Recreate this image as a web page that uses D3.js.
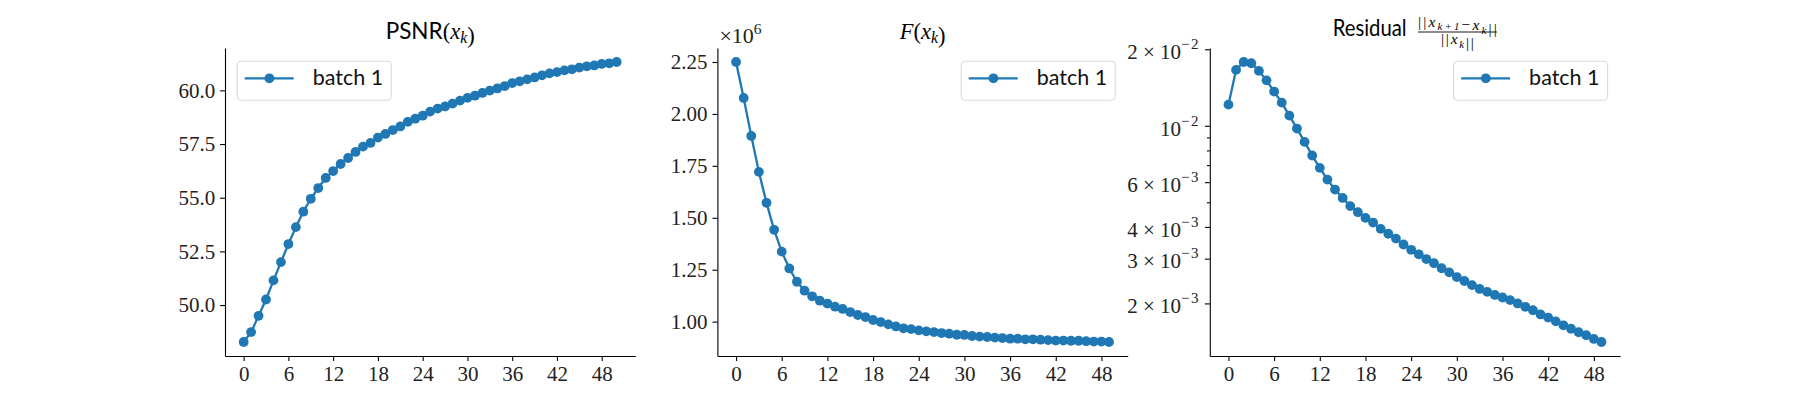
<!DOCTYPE html>
<html>
<head>
<meta charset="utf-8">
<script src="https://cdn.jsdelivr.net/npm/d3@7/dist/d3.min.js"></script>
<style>
  body { margin: 0; background: #fff; }
  svg { display: block; }
  .tick text { font-family: "Liberation Serif", serif; font-size: 21px; fill: #222; }
  .serif { font-family: "Liberation Serif", serif; }
  .sans { font-family: Lato, "Open Sans", sans-serif; }
</style>
</head>
<body>
<script>
(function(){

    //values, one point per iteration (x = array index)
    var psnrValues = [48.28, 48.74, 49.50, 50.26, 51.15, 52.00, 52.84, 53.63, 54.35, 54.95,
        55.45, 55.92, 56.24, 56.57, 56.85, 57.13, 57.38, 57.55, 57.80, 57.97,
        58.15, 58.32, 58.53, 58.68, 58.82, 59.01, 59.15, 59.25, 59.38, 59.52,
        59.65, 59.75, 59.88, 59.99, 60.09, 60.20, 60.34, 60.42, 60.51, 60.60,
        60.70, 60.79, 60.85, 60.93, 60.98, 61.06, 61.12, 61.16, 61.23, 61.26, 61.32];

    //objective F(x_k), in units of 1e6
    var objectiveValues = [2.250, 2.077, 1.894, 1.721, 1.572, 1.442, 1.337, 1.256, 1.192, 1.149,
        1.122, 1.101, 1.087, 1.072, 1.061, 1.046, 1.032, 1.022, 1.008, 0.998,
        0.987, 0.977, 0.968, 0.964, 0.958, 0.953, 0.950, 0.945, 0.942, 0.937,
        0.936, 0.931, 0.928, 0.926, 0.923, 0.921, 0.918, 0.918, 0.915, 0.915,
        0.913, 0.911, 0.909, 0.909, 0.908, 0.908, 0.906, 0.904, 0.904, 0.902];

    var residualValues = [0.01211, 0.01659, 0.01782, 0.01762, 0.01644, 0.01509, 0.01363, 0.01233, 0.01096, 0.00975,
        0.00864, 0.00764, 0.00683, 0.00614, 0.00561, 0.00520, 0.00483, 0.00457, 0.00434, 0.00416,
        0.00393, 0.00376, 0.00360, 0.00341, 0.00325, 0.00312, 0.00299, 0.00288, 0.00275, 0.00265,
        0.00254, 0.00245, 0.00236, 0.00228, 0.00222, 0.00216, 0.00211, 0.00206, 0.00200, 0.00194,
        0.00188, 0.00181, 0.00176, 0.00170, 0.00164, 0.00159, 0.00154, 0.00150, 0.00145, 0.00141];

    //tick values and labels
    var xTickValues = [0, 6, 12, 18, 24, 30, 36, 42, 48];
    var psnrTickValues = [50.0, 52.5, 55.0, 57.5, 60.0];
    var objectiveTickValues = [1.00, 1.25, 1.50, 1.75, 2.00, 2.25];
    var residualTickValues = [0.002, 0.003, 0.004, 0.006, 0.01, 0.02];
    var residualTickMantissa = ["2", "3", "4", "6", "", "2"];
    var residualTickExponent = ["\u22123", "\u22123", "\u22123", "\u22123", "\u22122", "\u22122"];
    var residualMinorTicks = [0.005, 0.007, 0.008, 0.009];
    var legendLabel = "batch 1";

    //figure layout (matplotlib subplot params)
    var width = 1800, height = 400;
    var plotLeft = 225, plotTop = 48, plotBottom = 356;
    var plotWidth = 410.3, plotGap = 82.1;
    var blue = "#1f77b4";
    var fs = 21;
    var markerR = 4.9, lineW = 2.3;

    var svg = d3.select("body").append("svg")
        .attr("width", width)
        .attr("height", height);

    //5% margins like matplotlib autoscale
    function padded(extent){
        var r = extent[1] - extent[0];
        return [extent[0] - 0.05 * r, extent[1] + 0.05 * r];
    }

    function makePanel(index, values, logScale){
        var left = plotLeft + index * (plotWidth + plotGap);
        var g = svg.append("g").attr("transform", "translate(" + left + ",0)");

        var x = d3.scaleLinear()
            .domain(padded([0, values.length - 1]))
            .range([0, plotWidth]);

        var y;
        if (logScale) {
            var ld = padded(d3.extent(values, function(d){ return Math.log10(d); }));
            y = d3.scaleLog().domain([Math.pow(10, ld[0]), Math.pow(10, ld[1])]).range([plotBottom, plotTop]);
        } else {
            y = d3.scaleLinear().domain(padded(d3.extent(values))).range([plotBottom, plotTop]);
        }

        //bottom axis
        var xAxis = g.append("g")
            .attr("transform", "translate(0," + plotBottom + ")")
            .call(d3.axisBottom(x).tickValues(xTickValues).tickSize(4.9).tickPadding(4.9).tickSizeOuter(0));
        styleAxis(xAxis);

        //series line and markers
        var line = d3.line()
            .x(function(d, i){ return x(i); })
            .y(function(d){ return y(d); });

        g.append("path")
            .datum(values)
            .attr("d", line)
            .attr("fill", "none")
            .attr("stroke", blue)
            .attr("stroke-width", lineW)
            .attr("stroke-linejoin", "round");

        g.selectAll(".pt")
            .data(values)
            .enter()
            .append("circle")
            .attr("class", "pt")
            .attr("cx", function(d, i){ return x(i); })
            .attr("cy", function(d){ return y(d); })
            .attr("r", markerR)
            .attr("fill", blue);

        return {g: g, x: x, y: y, left: left};
    }

    function styleAxis(axis){
        axis.select(".domain").attr("stroke", "#000").attr("stroke-width", 1.1);
        axis.selectAll(".tick line").attr("stroke", "#000").attr("stroke-width", 1.1);
        axis.attr("font-family", null).attr("font-size", null);
    }

    function addLegend(g, boxLeft){
        var top = 60.7;
        var lg = g.append("g").attr("transform", "translate(" + boxLeft + "," + top + ")");
        lg.append("rect")
            .attr("x", 0.5).attr("y", 0.5)
            .attr("width", 154).attr("height", 39)
            .attr("rx", 4)
            .attr("fill", "#fff").attr("fill-opacity", 0.8)
            .attr("stroke", "#d9d9d9").attr("stroke-width", 1.1);
        lg.append("line")
            .attr("x1", 8).attr("x2", 57)
            .attr("y1", 17.6).attr("y2", 17.6)
            .attr("stroke", blue).attr("stroke-width", lineW);
        lg.append("circle")
            .attr("cx", 32.7).attr("cy", 17.6).attr("r", markerR)
            .attr("fill", blue);
        lg.append("text")
            .attr("class", "sans")
            .attr("x", 76).attr("y", 24.8)
            .attr("font-size", 21.5)
            .attr("fill", "#111")
            .text(legendLabel);
    }

    //add "x_k" with italic x and subscript k to a text element
    function addXk(text, size, sub){
        text.append("tspan").attr("class", "serif").attr("font-style", "italic").text("x");
        text.append("tspan").attr("class", "serif").attr("font-style", "italic")
            .attr("font-size", size * 0.7).attr("dy", size * 0.22).text(sub);
        text.append("tspan").attr("dy", -size * 0.22).text("");
    }

    //panel 1: PSNR
    var p1 = makePanel(0, psnrValues, false);
    var yAxis1 = p1.g.append("g")
        .call(d3.axisLeft(p1.y).tickValues(psnrTickValues).tickFormat(d3.format(".1f"))
            .tickSize(4.9).tickPadding(4.9).tickSizeOuter(0));
    styleAxis(yAxis1);
    var t1 = p1.g.append("text")
        .attr("x", plotWidth / 2).attr("y", 38.5)
        .attr("text-anchor", "middle")
        .attr("font-size", 22.5);
    t1.append("tspan").attr("class", "sans").text("PSNR");
    t1.append("tspan").attr("class", "serif").text("(");
    addXk(t1, 22.5, "k");
    t1.append("tspan").attr("class", "serif").text(")");
    addLegend(p1.g, 11.7);

    //panel 2: objective F(x_k)
    var p2 = makePanel(1, objectiveValues, false);
    var yAxis2 = p2.g.append("g")
        .call(d3.axisLeft(p2.y).tickValues(objectiveTickValues).tickFormat(d3.format(".2f"))
            .tickSize(4.9).tickPadding(4.9).tickSizeOuter(0));
    styleAxis(yAxis2);
    var t2 = p2.g.append("text")
        .attr("x", plotWidth / 2).attr("y", 38.5)
        .attr("text-anchor", "middle")
        .attr("font-size", 22.5);
    t2.append("tspan").attr("class", "serif").attr("font-style", "italic").text("F");
    t2.append("tspan").attr("class", "serif").text("(");
    addXk(t2, 22.5, "k");
    t2.append("tspan").attr("class", "serif").text(")");
    //offset text x10^6
    var off = p2.g.append("text")
        .attr("class", "serif")
        .attr("x", 2).attr("y", 42.7)
        .attr("font-size", 22)
        .attr("fill", "#222");
    off.append("tspan").text("\u00d710");
    off.append("tspan").attr("font-size", 15.5).attr("dy", -9).text("6");
    addLegend(p2.g, plotWidth - 12 - 155);

    //panel 3: residual (log scale)
    var p3 = makePanel(2, residualValues, true);
    var yAxis3 = p3.g.append("g")
        .call(d3.axisLeft(p3.y).tickValues(residualTickValues).tickFormat("")
            .tickSize(4.9).tickSizeOuter(0));
    styleAxis(yAxis3);
    yAxis3.selectAll(".tick text").remove();
    yAxis3.selectAll(".tick").each(function(d, i){
        var t = d3.select(this).append("text")
            .attr("x", -9.8).attr("y", 9.3)
            .attr("text-anchor", "end");
        var m = residualTickMantissa[i];
        t.append("tspan").text(m === "" ? "10" : m + " \u00d7 10");
        t.append("tspan").attr("font-size", 15).attr("dy", -10).attr("letter-spacing", 1.5).text(residualTickExponent[i]);
    });
    var minor3 = p3.g.append("g")
        .call(d3.axisLeft(p3.y).tickValues(residualMinorTicks).tickFormat("")
            .tickSize(2.8).tickSizeOuter(0));
    styleAxis(minor3);
    minor3.select(".domain").remove();

    var cx3 = plotWidth / 2;
    p3.g.append("text")
        .attr("class", "sans")
        .attr("x", cx3 - 8.3).attr("y", 35.5)
        .attr("text-anchor", "end")
        .attr("font-size", 22.5)
        .attr("textLength", 74)
        .attr("lengthAdjust", "spacingAndGlyphs")
        .text("Residual");
    var num = p3.g.append("text")
        .attr("class", "serif")
        .attr("x", cx3 + 3).attr("y", 26.7)
        .attr("font-size", 15.5)
        .attr("textLength", 79)
        .attr("lengthAdjust", "spacing");
    num.append("tspan").text("||");
    addXk(num, 15.5, "k+1");
    num.append("tspan").text("\u2212");
    addXk(num, 15.5, "k");
    num.append("tspan").text("||");
    p3.g.append("line")
        .attr("x1", cx3 + 3).attr("x2", cx3 + 82)
        .attr("y1", 32).attr("y2", 32)
        .attr("stroke", "#000").attr("stroke-width", 0.9);
    var den = p3.g.append("text")
        .attr("class", "serif")
        .attr("x", cx3 + 26).attr("y", 44.3)
        .attr("font-size", 15.5)
        .attr("textLength", 33)
        .attr("lengthAdjust", "spacing");
    den.append("tspan").text("||");
    addXk(den, 15.5, "k");
    den.append("tspan").text("||");
    addLegend(p3.g, plotWidth - 12 - 155);

})();
</script>
</body>
</html>
